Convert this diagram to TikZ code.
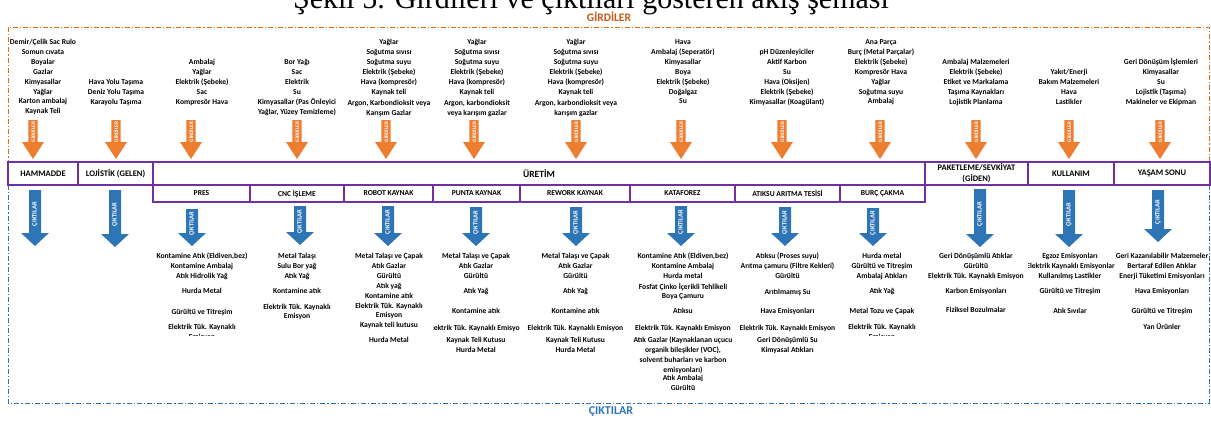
\documentclass[tikz,border=0pt]{standalone}
\usepackage{fontspec}
\setmainfont{Carlito}
\newfontfamily\titlefont{Liberation Serif}
\definecolor{gor}{HTML}{ED7D31}
\definecolor{dor}{HTML}{E46C0A}
\definecolor{lor}{HTML}{C65911}
\definecolor{cbl}{HTML}{2E75B6}
\definecolor{pur}{HTML}{7030A0}
\tikzset{
 lst/.style={anchor=north, align=center, inner sep=0pt, font=\fontsize{7.6}{9.9}\selectfont\bfseries},
 prow/.style={draw=pur, line width=1.3pt, fill=white, inner sep=0pt, align=center, minimum height=23pt, font=\fontsize{8.5}{11}\selectfont\bfseries},
 psub/.style={prow, minimum height=17pt, font=\fontsize{7.6}{10}\selectfont\bfseries},
 gtext/.style={text=white, rotate=90, inner sep=0pt, font=\fontsize{5.3}{6}\selectfont\bfseries},
 ctext/.style={text=white, rotate=90, inner sep=0pt, font=\fontsize{6.5}{7}\selectfont\bfseries},
 obox/.style={draw=dor, line width=0.9pt, dash pattern=on 5pt off 2pt on 1.2pt off 2pt},
 bbox/.style={draw=cbl, line width=0.9pt, dash pattern=on 5pt off 2pt on 1.2pt off 2pt},
}
\newcommand\lst[4]{\node[lst] (#1) at (#2,{#3-4.6}) {\strut #4};}
\newcommand\gir[2]{%
 \fill[gor] (#2-4.7,120) -- (#2+4.7,120) -- (#2+4.7,142) -- (#2+11,142) -- (#2,159) -- (#2-11,142) -- (#2-4.7,142) -- cycle;
 \node[gtext] (#1) at (#2,132) {GİRDİLER};}
\newcommand\cik[4]{%
 \fill[cbl] (#2-6,#3) -- (#2+6,#3) -- (#2+6,#4-13) -- (#2+14,#4-13) -- (#2,#4) -- (#2-14,#4-13) -- (#2-6,#4-13) -- cycle;
 \node[ctext] (#1) at (#2,{(#3+#4)/2-4}) {ÇIKTILAR};}
\begin{document}
\begin{tikzpicture}[x=1pt,y=-1pt]
\useasboundingbox (0,0) rectangle (1211,421);
\clip (0,0) rectangle (1211,421);
% title (cut at top)
\node[anchor=base, inner sep=0pt, font=\titlefont\fontsize{30}{30}\selectfont] (title) at (591,8) {Şekil 5. Girdileri ve çıktıları gösteren akış şeması};
% frames
\draw[obox] (8,27) rectangle (1209,162);
\draw[bbox] (8,185) rectangle (1209,403);
\node[text=lor, font=\fontsize{11.5}{12}\selectfont\bfseries] (lgir) at (609,17) {GİRDİLER};
\node[text=cbl, font=\fontsize{12}{13}\selectfont\bfseries] (lcik) at (611,412) {ÇIKTILAR};
% process rows
\node[prow, minimum width=70pt] (ham) at (43,173.5) {HAMMADDE};
\node[prow, minimum width=75pt] (loj) at (115.5,173.5) {LOJİSTİK (GELEN)};
\node[prow, minimum width=772pt, font=\fontsize{9.5}{11}\selectfont\bfseries] (ure) at (539,173.5) {ÜRETİM};
\node[prow, minimum width=103pt] (pak) at (976.5,173.5) {PAKETLEME/SEVKİYAT\\(GİDEN)};
\node[prow, minimum width=86pt] (kul) at (1071,173.5) {KULLANIM};
\node[prow, minimum width=96pt] (yas) at (1162,173.5) {YAŞAM SONU};
\node[psub, minimum width=97pt] (pres) at (201.5,193.5) {PRES};
\node[psub, minimum width=94pt] (cnc) at (297,193.5) {CNC İŞLEME};
\node[psub, minimum width=89pt] (rob) at (388.5,193.5) {ROBOT KAYNAK};
\node[psub, minimum width=87pt] (pun) at (476.5,193.5) {PUNTA KAYNAK};
\node[psub, minimum width=110pt] (rew) at (575,193.5) {REWORK KAYNAK};
\node[psub, minimum width=105pt] (kat) at (682.5,193.5) {KATAFOREZ};
\node[psub, minimum width=105pt] (atk) at (787.5,193.5) {ATIKSU ARITMA TESİSİ};
\node[psub, minimum width=85pt] (bur) at (882.5,193.5) {BURÇ ÇAKMA};
% input arrows
\gir{gham}{33}\gir{gloj}{116}\gir{gpres}{191}\gir{gcnc}{297}\gir{grob}{386}
\gir{gpun}{474}\gir{grew}{576}\gir{gkat}{681}\gir{gatk}{782}\gir{gbur}{880}
\gir{gpak}{976}\gir{gkul}{1069}\gir{gyas}{1160}
% output arrows
\cik{cham}{35}{190}{246}\cik{cloj}{115}{190}{247}
\cik{cpres}{192}{209}{246}\cik{ccnc}{300}{206}{245}\cik{crob}{388}{206}{246}
\cik{cpun}{476}{207}{246}\cik{crew}{576}{207}{246}\cik{ckat}{681}{206}{246}
\cik{catk}{785}{207}{246}\cik{cbur}{873}{208}{246}
\cik{cpak}{980}{189}{247}\cik{ckul}{1069}{190}{247}\cik{cyas}{1158}{190}{242}
% inputs
\lst{iham}{43}{42}{Demir/Çelik Sac Rulo\\Somun cıvata\\Boyalar\\Gazlar\\Kimyasallar\\Yağlar\\Karton ambalaj\\Kaynak Teli}
\lst{iloj}{116}{82}{Hava Yolu Taşıma\\Deniz Yolu Taşıma\\Karayolu Taşıma}
\lst{ipres}{202}{62}{Ambalaj\\Yağlar\\Elektrik (Şebeke)\\Sac\\Kompresör Hava}
\lst{icnc}{297}{62}{Bor Yağı\\Sac\\Elektrik\\Su\\Kimyasallar (Pas Önleyici\\Yağlar, Yüzey Temizleme)}
\lst{irob}{389}{42}{Yağlar\\Soğutma sıvısı\\Soğutma suyu\\Elektrik (Şebeke)\\Hava (kompresör)\\Kaynak teli}
\lst{irobb}{389}{103}{Argon, Karbondioksit veya\\Karışım Gazlar}
\lst{ipun}{477}{42}{Yağlar\\Soğutma sıvısı\\Soğutma suyu\\Elektrik (Şebeke)\\Hava (kompresör)\\Kaynak teli}
\lst{ipunb}{477}{103}{Argon, karbondioksit\\veya karışım gazlar}
\lst{irew}{576}{42}{Yağlar\\Soğutma sıvısı\\Soğutma suyu\\Elektrik (Şebeke)\\Hava (kompresör)\\Kaynak teli}
\lst{irewb}{576}{103}{Argon, karbondioksit veya\\karışım gazlar}
\lst{ikat}{683}{42}{Hava\\Ambalaj (Seperatör)\\Kimyasallar\\Boya\\Elektrik (Şebeke)\\Doğalgaz\\Su}
\lst{iatk}{787}{52}{pH Düzenleyiciler\\Aktif Karbon\\Su\\Hava (Oksijen)\\Elektrik (Şebeke)\\Kimyasallar (Koagülant)}
\lst{ibur}{881}{42}{Ana Parça\\Burç (Metal Parçalar)\\Elektrik (Şebeke)\\Kompresör Hava\\Yağlar\\Soğutma suyu\\Ambalaj}
\lst{ipak}{976}{62}{Ambalaj Malzemeleri\\Elektrik (Şebeke)\\Etiket ve Markalama\\Taşıma Kaynakları\\Lojistik Planlama}
\lst{ikul}{1069}{72}{Yakıt/Enerji\\Bakım Malzemeleri\\Hava\\Lastikler}
\lst{iyas}{1161}{62}{Geri Dönüşüm İşlemleri\\Kimyasallar\\Su\\Lojistik (Taşıma)\\Makineler ve Ekipman}
% outputs: PRES
\lst{opres1}{202}{256}{Kontamine Atık (Eldiven,bez)\\Kontamine Ambalaj\\Atık Hidrolik Yağ}
\lst{opres2}{202}{291}{Hurda Metal}
\lst{opres3}{202}{312}{Gürültü ve Titreşim}
\begin{scope}\clip (150,300) rectangle (252,335.5);
\lst{opres4}{202}{327}{Elektrik Tük. Kaynaklı\\Emisyon}
\end{scope}
% CNC
\lst{ocnc1}{297}{256}{Metal Talaşı\\Sulu Bor yağ\\Atık Yağ}
\lst{ocnc2}{297}{291}{Kontamine atık}
\lst{ocnc3}{297}{306.5}{Elektrik Tük. Kaynaklı\\Emisyon}
% ROBOT
\lst{orob1}{389}{256}{Metal Talaşı ve Çapak\\Atık Gazlar\\Gürültü\\Atık yağ\\Kontamine atık\\Elektrik Tük. Kaynaklı\\Emisyon\\Kaynak teli kutusu}
\lst{orob2}{389}{340}{Hurda Metal}
% PUNTA
\lst{opun1}{476}{256}{Metal Talaşı ve Çapak\\Atık Gazlar\\Gürültü}
\lst{opun2}{476}{291}{Atık Yağ}
\lst{opun3}{476}{311}{Kontamine atık}
\begin{scope}\clip (433,315) rectangle (519.5,335);
\lst{opun4}{476}{328}{Elektrik Tük. Kaynaklı Emisyon}
\end{scope}
\lst{opun5}{476}{340}{Kaynak Teli Kutusu\\Hurda Metal}
% REWORK
\lst{orew1}{575.5}{256}{Metal Talaşı ve Çapak\\Atık Gazlar\\Gürültü}
\lst{orew2}{575.5}{291}{Atık Yağ}
\lst{orew3}{575.5}{311}{Kontamine atık}
\lst{orew4}{575.5}{328}{Elektrik Tük. Kaynaklı Emisyon}
\lst{orew5}{575.5}{340}{Kaynak Teli Kutusu\\Hurda Metal}
% KATAFOREZ
\lst{okat1}{683}{256}{Kontamine Atık (Eldiven,bez)\\Kontamine Ambalaj\\Hurda metal}
\lst{okat2}{683}{286.5}{Fosfat Çinko İçerikli Tehlikeli\\Boya Çamuru}
\lst{okat3}{683}{311}{Atıksu}
\lst{okat4}{683}{328}{Elektrik Tük. Kaynaklı Emisyon}
\lst{okat5}{683}{340}{Atık Gazlar (Kaynaklanan uçucu\\organik bileşikler (VOC),\\solvent buharları ve karbon\\emisyonları)}
\lst{okat6}{683}{378}{Atık Ambalaj\\Gürültü}
% ATIKSU
\lst{oatk1}{787.5}{256}{Atıksu (Proses suyu)\\Arıtma çamuru (Filtre Kekleri)\\Gürültü}
\lst{oatk2}{787.5}{292}{Arıtılmamış Su}
\lst{oatk3}{787.5}{311}{Hava Emisyonları}
\lst{oatk4}{787.5}{328}{Elektrik Tük. Kaynaklı Emisyon}
\lst{oatk5}{787.5}{340}{Geri Dönüşümlü Su\\Kimyasal Atıkları}
% BURÇ
\lst{obur1}{882}{256}{Hurda metal\\Gürültü ve Titreşim\\Ambalaj Atıkları}
\lst{obur2}{882}{291}{Atık Yağ}
\lst{obur3}{882}{311}{Metal Tozu ve Çapak}
\begin{scope}\clip (835,300) rectangle (930,335.5);
\lst{obur4}{882}{327}{Elektrik Tük. Kaynaklı\\Emisyon}
\end{scope}
% PAKETLEME
\lst{opak1}{976}{256}{Geri Dönüşümlü Atıklar\\Gürültü\\Elektrik Tük. Kaynaklı Emisyon}
\lst{opak2}{976}{291}{Karbon Emisyonları}
\lst{opak3}{976}{310}{Fiziksel Bozulmalar}
% KULLANIM
\lst{okul1}{1070}{256}{Egzoz Emisyonları}
\begin{scope}\clip (1028,258) rectangle (1114,272);
\lst{okul2}{1071.5}{266}{Elektrik Kaynaklı Emisyonları}
\end{scope}
\lst{okul3}{1070}{276}{Kullanılmış Lastikler}
\lst{okul4}{1070}{291}{Gürültü ve Titreşim}
\lst{okul5}{1070}{311}{Atık Sıvılar}
% YAŞAM SONU
\lst{oyas1}{1162}{256}{Geri Kazanılabilir Malzemeler\\Bertaraf Edilen Atıklar\\Enerji Tüketimi Emisyonları}
\lst{oyas2}{1162}{291}{Hava Emisyonları}
\lst{oyas3}{1162}{311}{Gürültü ve Titreşim}
\lst{oyas4}{1162}{327}{Yan Ürünler}
\end{tikzpicture}
\end{document}
